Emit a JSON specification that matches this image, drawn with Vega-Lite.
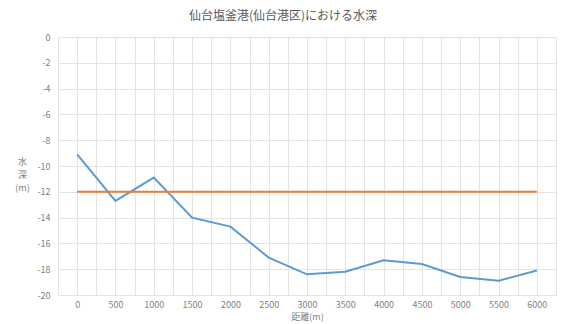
{
  "$schema": "https://vega.github.io/schema/vega-lite/v6.json",
  "width": 498,
  "height": 258,
  "autosize": {"type": "none"},
  "padding": {"left": 58, "top": 37, "right": 12, "bottom": 29},
  "background": "white",
  "title": {
    "text": "仙台塩釜港(仙台港区)における水深",
    "font": "Noto Sans CJK JP",
    "fontSize": 12,
    "fontWeight": "normal",
    "color": "#595959",
    "anchor": "middle",
    "dx": -24,
    "offset": 10
  },
  "config": {
    "view": {"stroke": null},
    "font": "Noto Sans CJK JP",
    "axis": {
      "labelFont": "Noto Sans CJK JP",
      "titleFont": "Noto Sans CJK JP",
      "labelColor": "#7f7f7f",
      "titleColor": "#7f7f7f",
      "labelFontSize": 9,
      "titleFontSize": 9,
      "titleFontWeight": "normal",
      "gridColor": "#e3e3e3",
      "gridWidth": 1,
      "domain": false,
      "ticks": false
    }
  },
  "datasets": {
    "depth": [
      {"distance": 0, "depth": -9.1, "series": "水深"},
      {"distance": 500, "depth": -12.7, "series": "水深"},
      {"distance": 1000, "depth": -10.9, "series": "水深"},
      {"distance": 1500, "depth": -14.0, "series": "水深"},
      {"distance": 2000, "depth": -14.7, "series": "水深"},
      {"distance": 2500, "depth": -17.1, "series": "水深"},
      {"distance": 3000, "depth": -18.4, "series": "水深"},
      {"distance": 3500, "depth": -18.2, "series": "水深"},
      {"distance": 4000, "depth": -17.3, "series": "水深"},
      {"distance": 4500, "depth": -17.6, "series": "水深"},
      {"distance": 5000, "depth": -18.6, "series": "水深"},
      {"distance": 5500, "depth": -18.9, "series": "水深"},
      {"distance": 6000, "depth": -18.1, "series": "水深"},
      {"distance": 0, "depth": -12, "series": "計画水深"},
      {"distance": 6000, "depth": -12, "series": "計画水深"}
    ]
  },
  "data": {"name": "depth"},
  "mark": {"type": "line", "strokeWidth": 2},
  "encoding": {
    "x": {
      "field": "distance",
      "type": "quantitative",
      "scale": {"domain": [-250, 6250], "nice": false, "zero": false},
      "axis": {
        "title": "距離(m)",
        "values": [-250, 0, 250, 500, 750, 1000, 1250, 1500, 1750, 2000, 2250, 2500, 2750, 3000, 3250, 3500, 3750, 4000, 4250, 4500, 4750, 5000, 5250, 5500, 5750, 6000, 6250],
        "labelExpr": "(datum.value >= 0 && datum.value % 500 == 0 && datum.value <= 6000) ? ('' + datum.value) : ''",
        "labelPadding": 5,
        "titlePadding": 3,
        "labelFlush": false,
        "labelOverlap": false,
        "labelBound": false
      }
    },
    "y": {
      "field": "depth",
      "type": "quantitative",
      "scale": {"domain": [-20, 0], "nice": false},
      "axis": {
        "title": ["水", "深", "(m)"],
        "titleAngle": 0,
        "titleX": -36,
        "titleY": 124,
        "titleAlign": "center",
        "titleBaseline": "middle",
        "titleLineHeight": 13,
        "values": [0, -2, -4, -6, -8, -10, -12, -14, -16, -18, -20],
        "labelExpr": "'' + datum.value",
        "labelOverlap": false,
        "labelPadding": 8
      }
    },
    "color": {
      "field": "series",
      "type": "nominal",
      "scale": {"domain": ["水深", "計画水深"], "range": ["#5b9bd5", "#ed7d31"]},
      "legend": null
    }
  }
}
